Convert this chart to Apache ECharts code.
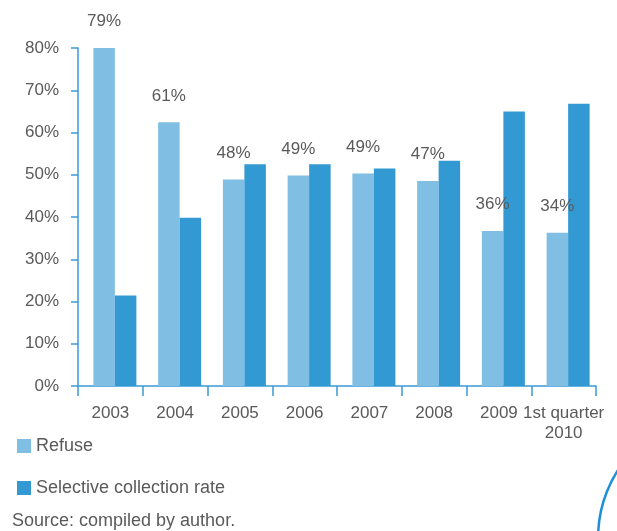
<!DOCTYPE html>
<html>
<head>
<meta charset="utf-8">
<script src="https://cdn.jsdelivr.net/npm/echarts@6/dist/echarts.min.js"></script>
<style>
html,body{margin:0;padding:0;background:#fff;}
#chart{width:617px;height:531px;}
</style>
</head>
<body>
<div id="chart"></div>
<script>
const categories = ['2003','2004','2005','2006','2007','2008','2009','1st quarter\n2010'];
const refuse = [80, 62.4, 48.9, 49.8, 50.3, 48.5, 36.7, 36.3];
const refuseLabels = ['79%','61%','48%','49%','49%','47%','36%','34%'];
const selective = [21.4, 39.8, 52.5, 52.5, 51.5, 53.3, 65.0, 66.8];
const yTicks = [0, 80, 10];
const sourceText = 'Source: compiled by author.';

const textColor = '#5a5a5a';
const axisColor = '#3a9ad6';
const fontFamily = '"Liberation Sans", Arial, sans-serif';

const chart = echarts.init(document.getElementById('chart'));
chart.setOption({
  animation: false,
  backgroundColor: '#fff',
  textStyle: { fontFamily: fontFamily },
  grid: { left: 78, right: 21, top: 48, bottom: 145 },
  legend: {
    data: ['Refuse', 'Selective collection rate'],
    orient: 'vertical',
    left: 12, top: 432,
    itemWidth: 14, itemHeight: 14, itemGap: 24,
    icon: 'rect',
    textStyle: { color: textColor, fontSize: 18, fontFamily: fontFamily }
  },
  xAxis: {
    type: 'category',
    data: categories,
    axisLine: { lineStyle: { color: axisColor, width: 1.5 } },
    axisTick: { show: true, interval: 0, length: 10, lineStyle: { color: axisColor, width: 1.5 } },
    axisLabel: { interval: 0, color: textColor, fontSize: 17, margin: 17, lineHeight: 20 }
  },
  yAxis: {
    type: 'value',
    min: yTicks[0], max: yTicks[1], interval: yTicks[2],
    axisLine: { show: true, lineStyle: { color: axisColor, width: 1.5 } },
    axisTick: { show: true, length: 7, lineStyle: { color: axisColor, width: 1.5 } },
    splitLine: { show: false },
    axisLabel: { color: textColor, fontSize: 17, margin: 19, formatter: '{value}%' }
  },
  series: [
    { name: 'spacer', type: 'bar', data: [], barWidth: 9, barGap: '0%', silent: true, itemStyle: { color: 'transparent' } },
    {
      name: 'Refuse', type: 'bar', data: refuse, barWidth: 21.5, barGap: '0%',
      itemStyle: { color: '#80bfe3' },
      label: {
        show: true, position: 'top', distance: 18, color: textColor, fontSize: 17,
        formatter: function (p) { return refuseLabels[p.dataIndex]; }
      }
    },
    {
      name: 'Selective collection rate', type: 'bar', data: selective, barWidth: 21.5, barGap: '0%',
      itemStyle: { color: '#3399d2' }
    }
  ],
  graphic: [
    { type: 'text', left: 12, top: 512, style: { text: sourceText, fill: textColor, fontSize: 18, fontFamily: fontFamily } },
    { type: 'circle', shape: { cx: 722.6, cy: 537.6, r: 124.5 }, style: { fill: 'none', stroke: '#1f8fd8', lineWidth: 2.5 }, silent: true }
  ]
});
</script>
</body>
</html>
